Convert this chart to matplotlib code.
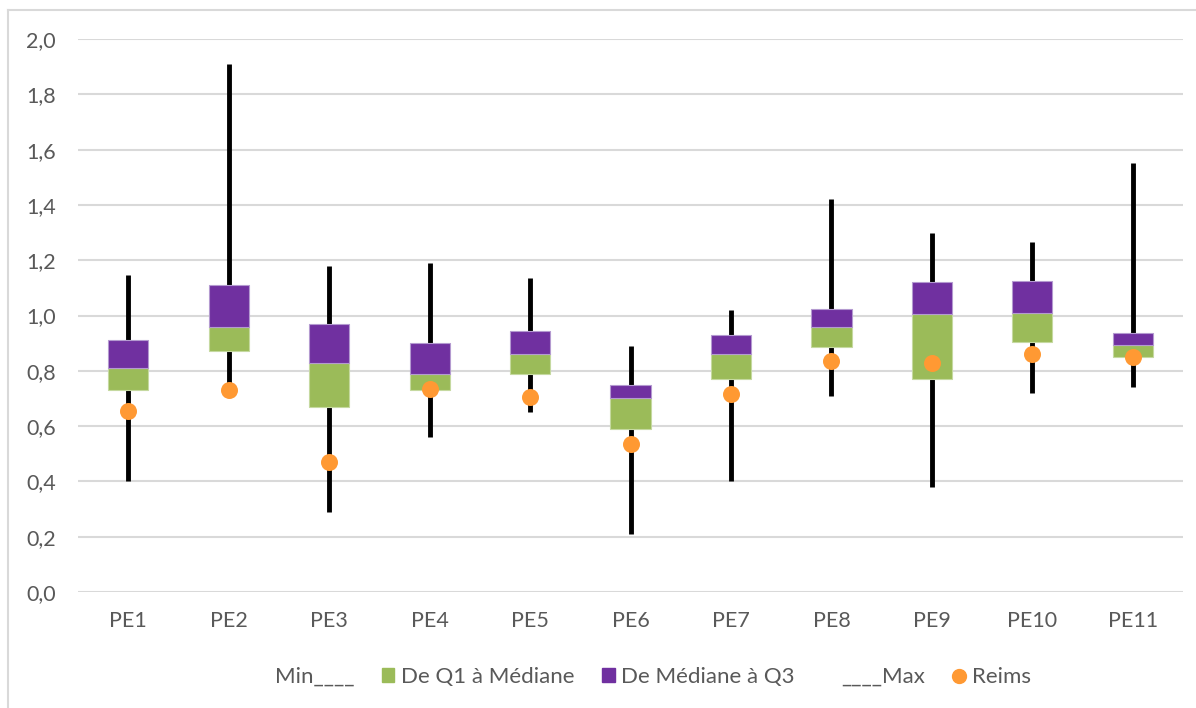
import numpy as np
import matplotlib
matplotlib.use("Agg")
from matplotlib import pyplot as plt
from matplotlib.patches import Patch
from matplotlib.lines import Line2D

categories = ["PE1", "PE2", "PE3", "PE4", "PE5", "PE6", "PE7", "PE8", "PE9", "PE10", "PE11"]
mins = [0.40, 0.73, 0.29, 0.56, 0.65, 0.21, 0.40, 0.71, 0.38, 0.72, 0.74]
q1 = [0.73, 0.87, 0.67, 0.73, 0.79, 0.59, 0.77, 0.885, 0.77, 0.905, 0.85]
medians = [0.81, 0.96, 0.83, 0.79, 0.86, 0.70, 0.86, 0.96, 1.005, 1.01, 0.895]
q3 = [0.91, 1.11, 0.97, 0.90, 0.945, 0.75, 0.93, 1.025, 1.12, 1.125, 0.935]
maxs = [1.145, 1.91, 1.18, 1.19, 1.135, 0.89, 1.02, 1.42, 1.30, 1.265, 1.55]
reims = [0.655, 0.73, 0.47, 0.735, 0.705, 0.535, 0.715, 0.835, 0.83, 0.86, 0.85]

green = "#9BBB59"
purple = "#7030A0"
orange = "#FF9933"
grey_text = "#595959"

plt.rcParams["font.family"] = ["Lato", "DejaVu Sans"]

fig = plt.figure(figsize=(11.96, 7.08), dpi=100)
ax = fig.add_axes([78 / 1196, 1 - 592 / 708, (1183 - 78) / 1196, (592 - 39) / 708])

x = np.arange(len(categories))
q1 = np.array(q1)
medians = np.array(medians)
q3 = np.array(q3)

ax.vlines(x, mins, maxs, color="black", linewidth=3.5, zorder=2)
ax.bar(x, medians - q1, bottom=q1, width=0.4, color=green,
       edgecolor="#C5D9A0", linewidth=0.8, zorder=3)
ax.bar(x, q3 - medians, bottom=medians, width=0.4, color=purple,
       edgecolor="#B49AD0", linewidth=0.8, zorder=3)
ax.scatter(x, reims, s=150, color=orange, zorder=4, linewidths=0)

ax.set_xlim(-0.5, len(categories) - 0.5)
ax.set_ylim(0, 2.0)
ax.set_yticks(np.arange(0, 2.01, 0.2))
ax.set_yticklabels([("%.1f" % v).replace(".", ",") for v in np.arange(0, 2.01, 0.2)])
ax.set_xticks(x)
ax.set_xticklabels(categories)
ax.tick_params(axis="both", length=0, labelsize=15.5, colors=grey_text)
ax.tick_params(axis="y", pad=16)
ax.tick_params(axis="x", pad=14)
ax.grid(axis="y", color="#D9D9D9", linewidth=1.5, zorder=0)
ax.set_axisbelow(True)
for s in ax.spines.values():
    s.set_visible(False)

handles = [
    Patch(facecolor="none", edgecolor="none"),
    Patch(facecolor=green, edgecolor=green),
    Patch(facecolor=purple, edgecolor=purple),
    Patch(facecolor="none", edgecolor="none"),
    Line2D([], [], marker="o", linestyle="none", color=orange, markersize=10),
]
labels = ["Min____", "De Q1 à Médiane", "De Médiane à Q3", "____Max", "Reims"]
leg = fig.legend(handles, labels, loc="center", bbox_to_anchor=(0.538, 1 - 677 / 708),
                 ncol=5, frameon=False, fontsize=16, handlelength=0.55,
                 handleheight=0.55, handletextpad=0.3, columnspacing=1.25)
for t in leg.get_texts():
    t.set_color(grey_text)

# light chart border (top and left visible)
fig.add_artist(Line2D([8 / 1196, 8 / 1196], [0, 1 - 10 / 708], transform=fig.transFigure,
                      color="#D9D9D9", linewidth=1.5))
fig.add_artist(Line2D([8 / 1196, 1], [1 - 10 / 708, 1 - 10 / 708], transform=fig.transFigure,
                      color="#D9D9D9", linewidth=1.5))

fig.savefig("out.png", dpi=100)
